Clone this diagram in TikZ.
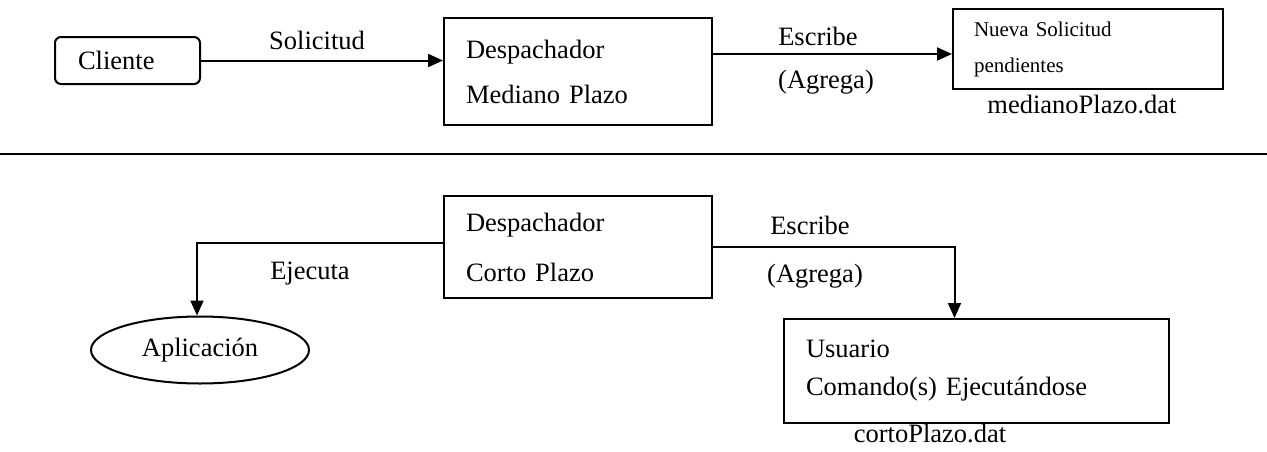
\documentclass[tikz,border=0pt]{standalone}
\usepackage{fontspec}
\setmainfont{Liberation Serif}
\usetikzlibrary{arrows.meta, positioning, shapes.geometric}
\tikzset{
  every picture/.style={line width=2pt},
  box/.style={draw, anchor=north west, align=left, inner xsep=22pt, inner ysep=0pt},
  bigtext/.style={font=\fontsize{26.5}{#1}\selectfont},
  bigtext/.default=32,
  smalltext/.style={font=\fontsize{21}{36}\selectfont},
  lbl/.style={anchor=base, inner sep=0pt, bigtext},
  arrow/.style={-{Triangle[length=15pt, width=13pt]}},
}
\begin{document}
\begin{tikzpicture}[x=1pt, y=-1pt]
  \useasboundingbox (0,0) rectangle (1267,451);
  % upper half: mediano plazo
  \node[box, rounded corners=6pt, bigtext, inner xsep=23pt, text width=99pt, minimum height=47pt] (cliente) at (54,36) {Cliente};
  \node[box, bigtext=45, text width=224pt, minimum height=107pt] (despmed) at (443,17) {Despachador\\Mediano Plazo};
  \node[box, smalltext, inner xsep=21pt, text width=228pt, minimum height=80pt] (nueva) at (952,8) {Nueva Solicitud\\pendientes};
  \draw[arrow] (cliente.east) -- (cliente.east -| despmed.west);
  \draw[arrow] ([yshift=-5pt]nueva.west -| despmed.east) -- ([yshift=-5pt]nueva.west);
  \node[lbl] (solicitud) at (317,49) {Solicitud};
  \node[lbl] (escribemed) at (818,45) {Escribe};
  \node[lbl] (agregamed) at (826,88) {(Agrega)};
  \node[lbl] (archmed) at (1082,113) {medianoPlazo.dat};
  % separator
  \draw (0,154) -- (1267,154);
  % lower half: corto plazo
  \node[box, bigtext=50, text width=224pt, minimum height=102pt] (despcorto) at (443,195) {Despachador\\Corto Plazo};
  \node[draw, ellipse, bigtext, inner sep=0pt, minimum width=218pt, minimum height=67pt] (aplic) at (200,350) {Aplicación};
  \node[box, bigtext=38, text width=341pt, minimum height=104pt] (usuario) at (783,318) {Usuario\\Comando(s) Ejecutándose};
  \draw[arrow] ([yshift=4pt]despcorto.west) -| ([xshift=-3pt]aplic.north);
  \draw[arrow] (despcorto.east) -| ([xshift=-22pt]usuario.north);
  \node[lbl] (ejecuta) at (310,279) {Ejecuta};
  \node[lbl] (escribecorto) at (810,234) {Escribe};
  \node[lbl] (agregacorto) at (815,282) {(Agrega)};
  \node[lbl] (archcorto) at (930,442) {cortoPlazo.dat};
\end{tikzpicture}
\end{document}
